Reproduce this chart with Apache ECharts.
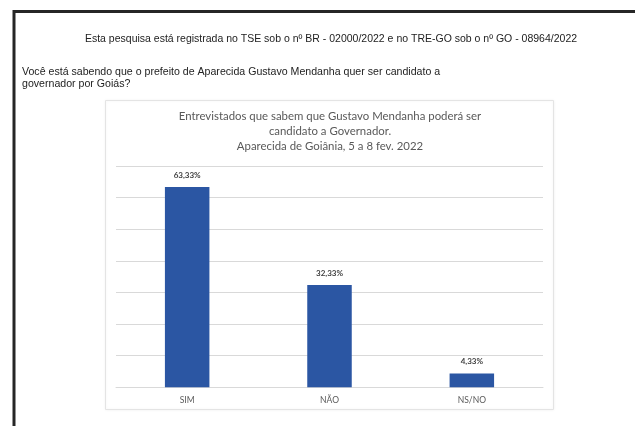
<!DOCTYPE html>
<html>
<head>
<meta charset="utf-8">
<script src="https://cdn.jsdelivr.net/npm/echarts@6/dist/echarts.min.js"></script>
<style>
  html, body { margin: 0; padding: 0; background: #fff; }
  #main { width: 635px; height: 426px; }
</style>
</head>
<body>
<div id="main"></div>
<script>
// data
const categories = ['SIM', 'NÃO', 'NS/NO'];
const values = [63.33, 32.33, 4.33];
const yTicks = [0, 10, 20, 30, 40, 50, 60, 70];

const header = 'Esta pesquisa está registrada no TSE sob o nº BR - 02000/2022 e no TRE-GO sob o nº GO - 08964/2022';
const questionLines = [
   'Você está sabendo que o prefeito de Aparecida Gustavo Mendanha quer ser candidato a',
   'governador por Goiás?'
];
const titleLines = [
   'Entrevistados que sabem que Gustavo Mendanha poderá ser',
   'candidato a Governador.',
   'Aparecida de Goiânia, 5 a 8 fev. 2022'
];

const chart = echarts.init(document.getElementById('main'), null, { renderer: 'canvas' });

const pageFont = '"Liberation Sans", Arial, sans-serif';
const chartFont = 'Lato, "Open Sans", sans-serif';

const graphics = [
   // outer page frame (left + top edges visible)
   {
      type: 'polyline', silent: true, z: 0,
      shape: { points: [[14, 430], [14, 11.5], [640, 11.5]] },
      style: { stroke: '#262626', lineWidth: 3, fill: null }
   },
   // chart box
   {
      type: 'rect', silent: true, z: 0,
      shape: { x: 105.5, y: 100.5, width: 448, height: 309 },
      style: { fill: '#fff', stroke: '#e4e4e4', lineWidth: 1, shadowBlur: 3, shadowColor: 'rgba(0,0,0,0.06)' }
   },
   {
      type: 'text', silent: true,
      style: { x: 331, y: 39, text: header, align: 'center', verticalAlign: 'middle',
               font: '10.5px ' + pageFont, fill: '#222' }
   }
];
questionLines.forEach((t, i) => {
   graphics.push({
      type: 'text', silent: true,
      style: { x: 22, y: 72 + i * 12, text: t, align: 'left', verticalAlign: 'middle',
               font: '10.6px ' + pageFont, fill: '#222' }
   });
});
titleLines.forEach((t, i) => {
   graphics.push({
      type: 'text', silent: true,
      style: { x: 330, y: 116 + i * 15.3, text: t, align: 'center', verticalAlign: 'middle',
               font: '11.4px ' + chartFont, fill: '#595959' }
   });
});

const option = {
   animation: false,
   backgroundColor: '#fff',
   graphic: graphics,
   grid: { left: 116, right: 92, top: 166, bottom: 38.7 },
   xAxis: {
      type: 'category',
      data: categories,
      axisLine: { lineStyle: { color: '#d9d9d9', width: 1 } },
      axisTick: { show: false },
      axisLabel: { color: '#595959', fontSize: 8.5, fontFamily: chartFont, margin: 8 }
   },
   yAxis: {
      type: 'value',
      min: yTicks[0],
      max: yTicks[yTicks.length - 1],
      interval: yTicks[1] - yTicks[0],
      axisLabel: { show: false },
      axisLine: { show: false },
      axisTick: { show: false },
      splitLine: { lineStyle: { color: '#d9d9d9', width: 1 } }
   },
   series: [{
      type: 'bar',
      data: values,
      barWidth: 44.5,
      itemStyle: { color: '#2B56A3' },
      label: {
         show: true,
         position: 'top',
         distance: 8,
         color: '#404040',
         fontSize: 8,
         fontWeight: 'bold',
         fontFamily: chartFont,
         formatter: p => p.value.toFixed(2).replace('.', ',') + '%'
      }
   }]
};
chart.setOption(option);
</script>
</body>
</html>
